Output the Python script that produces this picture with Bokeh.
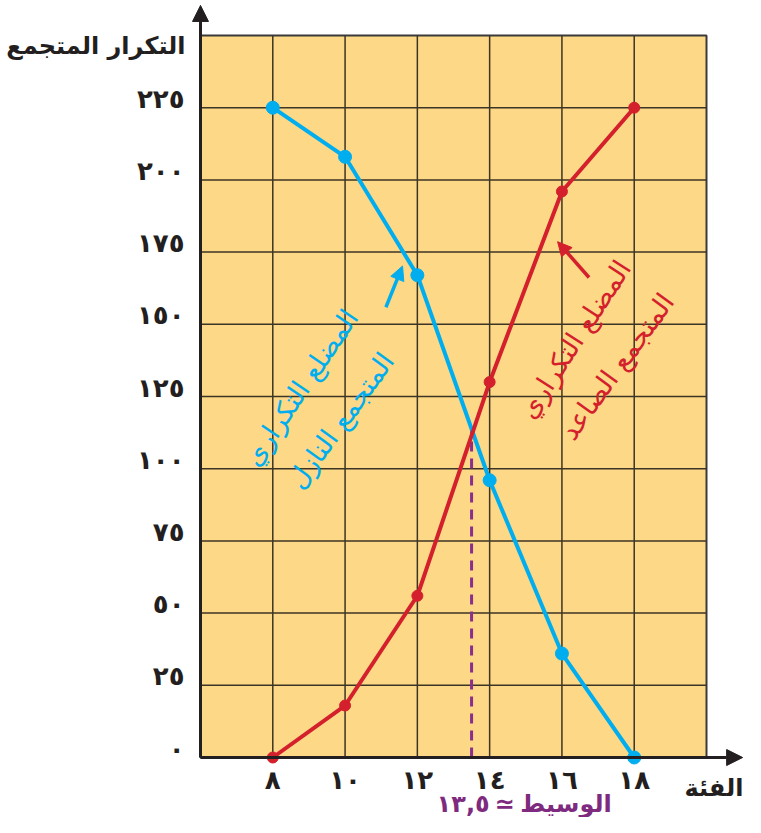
import numpy as np
from bokeh.plotting import figure
from bokeh.models import Range1d, FixedTicker, Label, Arrow, NormalHead
from bokeh.core.properties import value
from bokeh.embed import file_html
from bokeh.resources import INLINE

# ---- data ----
classes = [8, 10, 12, 14, 16, 18]
ascending = [0, 18, 56, 130, 196, 225]
descending = [225, 208, 167, 96, 36, 0]
median = 13.5
x_tick_labels = ["٨", "١٠", "١٢", "١٤", "١٦", "١٨"]
y_ticks = [0, 25, 50, 75, 100, 125, 150, 175, 200, 225]
y_tick_labels = ["٠", "٢٥", "٥٠", "٧٥", "١٠٠", "١٢٥", "١٥٠", "١٧٥", "٢٠٠", "٢٢٥"]
y_title = "التكرار المتجمع"
x_title = "الفئة"
median_word = "الوسيط"
median_sign = "≃"
median_value = "١٣,٥"
desc_text = ["المضلع التكراري", "المتجمع النازل"]
asc_text = ["المضلع التكراري", "المتجمع الصاعد"]

# plotting area extent (data units)
X_MIN, X_MAX, Y_MAX = 6, 20, 250

BG = "#FDD886"
BLUE = "#00AEEF"
RED = "#D4202C"
PURPLE = "#8A2F8C"
PURPLE_TXT = "#7E2B7F"
GRID = "#3c3425"
INK = "#231f20"
FONT = "DejaVu Sans"

W, H = 745, 817
PX_X = 36.143   # px per x unit
PX_Y = 2.888    # px per y unit
LEFT_PX, ZERO_PX = 200, 757
x_range = Range1d(X_MIN - LEFT_PX / PX_X, X_MIN + (W - LEFT_PX) / PX_X)
y_range = Range1d(-(H - ZERO_PX) / PX_Y, ZERO_PX / PX_Y)

p = figure(width=W, height=H, output_backend="svg", toolbar_location=None,
           x_range=x_range, y_range=y_range,
           min_border_left=0, min_border_right=0, min_border_top=0, min_border_bottom=0)
p.title.visible = False
p.background_fill_color = "white"
p.border_fill_color = "white"
p.outline_line_color = None
p.grid.visible = False

# yellow plotting area
p.quad(left=[X_MIN], right=[X_MAX], bottom=[0], top=[Y_MAX], fill_color=BG,
       line_color="#3a3a3a", line_width=2)

# grid lines
vx = classes
p.segment(x0=vx, x1=vx, y0=[0] * len(vx), y1=[Y_MAX] * len(vx), line_color=GRID, line_width=1.5)
hy = y_ticks[1:]
p.segment(x0=[X_MIN] * len(hy), x1=[X_MAX] * len(hy), y0=hy, y1=hy, line_color=GRID, line_width=1.5)

# x axis fixed at y = 0
p.xaxis.fixed_location = 0
p.xaxis.ticker = FixedTicker(ticks=classes)
p.xaxis.major_label_overrides = {c: l for c, l in zip(classes, x_tick_labels)}
ax = p.xaxis[0]
ax.axis_line_color = None
ax.major_tick_line_color = None
ax.minor_tick_line_color = None
ax.major_label_text_font = FONT
ax.major_label_text_font_style = "bold"
ax.major_label_text_font_size = "26px"
ax.major_label_text_color = INK
ax.major_label_standoff = 1

# y tick labels (sitting just above their grid lines, as in the original)
p.yaxis.visible = False
p.text(x=[X_MIN] * len(y_ticks), y=y_ticks, text=y_tick_labels, x_offset=-16, y_offset=-9,
       text_align="right", text_baseline="middle", text_font=value(FONT),
       text_font_style="bold", text_font_size="26px", text_color=INK)

# median dashed line
median_top = float(np.interp(median, classes, descending))
p.line([median, median], [0, median_top], line_color=PURPLE, line_width=3, line_dash="10 7")

# series
p.line(classes, descending, line_color=BLUE, line_width=4)
p.scatter(classes, descending, size=13, fill_color=BLUE, line_color=BLUE)
p.line(classes, ascending, line_color=RED, line_width=4)
p.scatter(classes, ascending, size=11, fill_color=RED, line_color=RED)

# axis arrows
p.add_layout(Arrow(x_start=X_MIN, y_start=0, x_end=21.0, y_end=0, line_width=3, line_color=INK,
                   end=NormalHead(size=16, fill_color=INK, line_color=INK)))
p.add_layout(Arrow(x_start=X_MIN, y_start=0, x_end=X_MIN, y_end=260.4, line_width=3, line_color=INK,
                   end=NormalHead(size=16, fill_color=INK, line_color=INK)))

# pointer arrows
p.add_layout(Arrow(x_start=11.13, y_start=155.9, x_end=11.59, y_end=170.2, line_width=3.5, line_color=BLUE,
                   end=NormalHead(size=14, fill_color=BLUE, line_color=BLUE)))
p.add_layout(Arrow(x_start=16.75, y_start=166.2, x_end=15.88, y_end=178.6, line_width=3.5, line_color=RED,
                   end=NormalHead(size=14, fill_color=RED, line_color=RED)))

# rotated annotations
def rlabel(x, y, text, color, angle):
    p.add_layout(Label(x=x, y=y, text=text, text_color=color, text_font=FONT,
                       text_font_size="27px", text_align="center", text_baseline="middle",
                       angle=angle, angle_units="deg"))

rlabel(8.77, 128.1, desc_text[0], BLUE, 56)
rlabel(9.88, 116.7, desc_text[1], BLUE, 54)
rlabel(16.35, 144.8, asc_text[0], RED, 57)
rlabel(17.52, 135.4, asc_text[1], RED, 54)

# titles
def tlabel(x, y, text, color, align, size="24px"):
    p.add_layout(Label(x=x, y=y, text=text, text_color=color, text_font=FONT,
                       text_font_style="bold", text_font_size=size, text_align=align,
                       text_baseline="middle"))

tlabel(5.585, 246.5, y_title, INK, "right")
tlabel(21.02, -10.4, x_title, INK, "right")
tlabel(14.0, -16.2, median_value, PURPLE_TXT, "right")
tlabel(14.415, -16.2, median_sign, PURPLE_TXT, "center")
tlabel(14.85, -16.2, median_word, PURPLE_TXT, "left")

open("out.html", "w").write(file_html(p, INLINE))
